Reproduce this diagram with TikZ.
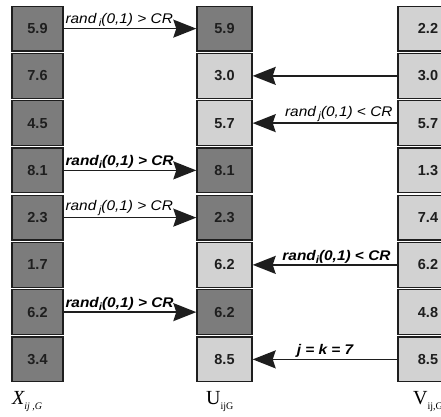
\documentclass[tikz,border=0pt]{standalone}
\usepackage{fontspec}
\usetikzlibrary{arrows.meta}
\newfontfamily\arialf{Liberation Sans}
\newfontfamily\tnrf{Liberation Serif}
\newcommand\sbs[1]{\raisebox{-3pt}{\fontsize{10.5}{10.5}\selectfont #1}}
\newcommand\wide[1]{\scalebox{1.1}[1]{#1}}
\definecolor{darkcell}{HTML}{7C7C7C}
\definecolor{lightcell}{HTML}{D2D2D2}
\definecolor{edgec}{HTML}{1E1E1E}
\begin{document}
\begin{tikzpicture}[x=1pt,y=-1pt,
  cell/.style={draw=edgec,line width=1.4pt,minimum height=44.75pt,inner sep=0pt,
    font=\arialf\bfseries\fontsize{14.5}{16}\selectfont,text=edgec},
  lcell/.style={cell,minimum width=51pt,fill=darkcell},
  mdark/.style={cell,minimum width=55pt,fill=darkcell},
  mlight/.style={cell,minimum width=55pt,fill=lightcell},
  rcell/.style={cell,minimum width=60pt,fill=lightcell},
  conn/.style={line width=1.6pt,draw=edgec,-{Stealth[length=23pt,width=18pt,inset=3pt]}},
  lab/.style={font=\arialf\itshape\fontsize{14}{16}\selectfont,inner sep=1pt,text=black},
  blab/.style={font=\arialf\bfseries\itshape\fontsize{14}{16}\selectfont,inner sep=1pt,text=black},
  axl/.style={font=\tnrf\fontsize{20}{22}\selectfont,inner sep=0pt,anchor=base west}]
\useasboundingbox (0,0) rectangle (441,416);
\clip (0,0) rectangle (441,416);
% left column X
\foreach \v [count=\k] in {5.9,7.6,4.5,8.1,2.3,1.7,6.2,3.4}
  \node[lcell] (l\k) at (37.5,{5+47.25*(\k-0.5)}) {\v};
% middle column U
\node[mdark]  (m1) at (224.5,{5+47.25*0.5}) {5.9};
\node[mlight] (m2) at (224.5,{5+47.25*1.5}) {3.0};
\node[mlight] (m3) at (224.5,{5+47.25*2.5}) {5.7};
\node[mdark]  (m4) at (224.5,{5+47.25*3.5}) {8.1};
\node[mdark]  (m5) at (224.5,{5+47.25*4.5}) {2.3};
\node[mlight] (m6) at (224.5,{5+47.25*5.5}) {6.2};
\node[mdark]  (m7) at (224.5,{5+47.25*6.5}) {6.2};
\node[mlight] (m8) at (224.5,{5+47.25*7.5}) {8.5};
% right column V
\foreach \v [count=\k] in {2.2,3.0,5.7,1.3,7.4,6.2,4.8,8.5}
  \node[rcell] (r\k) at (428,{5+47.25*(\k-0.5)}) {\v\hspace{8pt}};
% connectors from X to U
\draw[conn] (l1.east) -- node[pos=0,anchor=south west,lab]{\wide{rand\,\sbs{i}(0,1) > CR}} (m1.west);
\draw[conn] (l4.east) -- node[pos=0,anchor=south west,blab]{\wide{rand\sbs{i}(0,1) > CR}} (m4.west);
\draw[conn] (l5.east) -- node[pos=0,anchor=south west,lab]{\wide{rand\,\sbs{j}(0,1) > CR}} (m5.west);
\draw[conn] (l7.east) -- node[pos=0,anchor=south west,blab]{\wide{rand\sbs{i}(0,1) > CR}} (m7.west);
% connectors from V to U
\draw[conn] (r2.west) -- (m2.east);
\draw[conn] (r3.west) -- node[pos=0,anchor=south east,lab,xshift=-3pt]{\wide{rand\,\sbs{j}(0,1) < CR}} (m3.east);
\draw[conn] (r6.west) -- node[pos=0,anchor=south east,blab,xshift=-5pt]{\wide{rand\sbs{i}(0,1) < CR}} (m6.east);
\draw[conn] (r8.west) -- node[midway,above,blab]{\wide{j = k = 7}} (m8.east);
% column labels
\node[axl] (xl) at (12,404) {\itshape X\raisebox{-5pt}{\fontsize{10}{10}\selectfont\itshape ij ,G}};
\node[axl] (ul) at (206,404) {U\raisebox{-5pt}{\fontsize{10}{10}\selectfont ijG}};
\node[axl] (vl) at (413,404) {V\raisebox{-5pt}{\fontsize{10}{10}\selectfont ij,G}};
\end{tikzpicture}
\end{document}
